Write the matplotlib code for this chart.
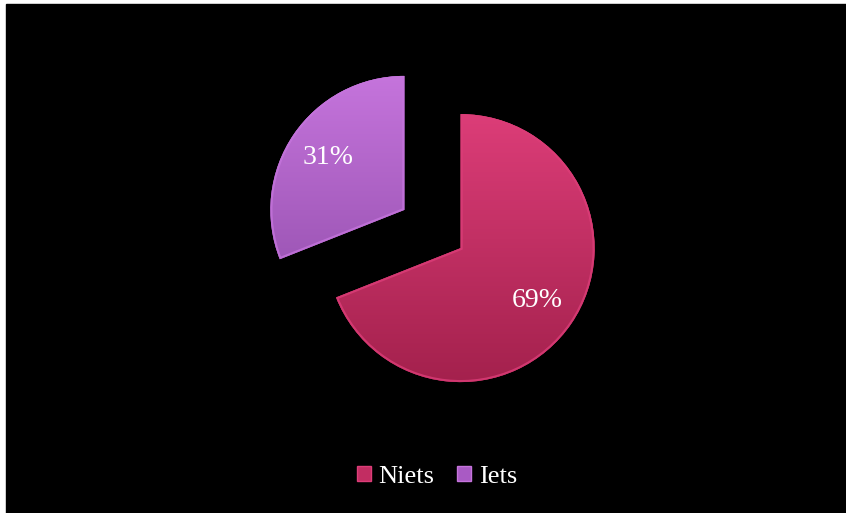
import matplotlib.pyplot as plt
import numpy as np
from matplotlib.colors import LinearSegmentedColormap
from matplotlib.patches import Patch, Wedge, Rectangle

labels = ["Niets", "Iets"]
shares = [69, 31]
top_colors = ["#dc3d78", "#c574dc"]
bottom_colors = ["#a4214d", "#8d4aa6"]
mid_colors = ["#c22d62", "#a95ac4"]

W, H = 846, 513
fig = plt.figure(figsize=(W / 100, H / 100), dpi=100, facecolor="white")
# black chart area, leaving a thin white strip on the left and top
fig.patches.append(Rectangle((6 / W, 0), (W - 6) / W, (H - 4) / H,
                             transform=fig.transFigure, color="black", zorder=-1))
ax = fig.add_axes([6 / W, 0, (W - 6) / W, (H - 4) / H])

radius = 134
center = (432.5, H - 229)
gap = 34  # explode distance, in data units (= pixels here)
wedges, texts, autotexts = ax.pie(
    shares, radius=radius, center=center, startangle=90, counterclock=False,
    explode=[gap, gap], colors=mid_colors, autopct="%1.0f%%",
    pctdistance=0.69, frame=True,
    wedgeprops=dict(linewidth=0),
    textprops=dict(color="white", fontsize=20, family="Liberation Serif"),
)
ax.set_xlim(6, W)
ax.set_ylim(0, H - 4)
ax.set_aspect("equal")
ax.axis("off")

# vertical shading inside each slice
for w, c_top, c_bot in zip(wedges, top_colors, bottom_colors):
    cmap = LinearSegmentedColormap.from_list("shade", [c_bot, c_top])
    x0, y0 = w.center
    grad = np.linspace(0, 1, 256).reshape(-1, 1)
    im = ax.imshow(grad, cmap=cmap, origin="lower", aspect="auto",
                   extent=[x0 - radius, x0 + radius, y0 - radius, y0 + radius],
                   zorder=1.5)
    im.set_clip_path(w)
    # lighter bevel rim
    rim = Wedge(w.center, w.r, w.theta1, w.theta2, fill=False,
                edgecolor=c_top, linewidth=3, alpha=0.8, zorder=1.6)
    ax.add_patch(rim)
    rim.set_clip_path(w)

ax.set_xlim(6, W)
ax.set_ylim(0, H - 4)

for t in autotexts:
    t.set_zorder(3)
for t in texts:
    t.set_visible(False)

handles = [Patch(facecolor=c, edgecolor=t, linewidth=1) for c, t in zip(mid_colors, top_colors)]
leg = ax.legend(handles, labels, loc="center", bbox_to_anchor=(437 / W, 1 - 477 / H),
                bbox_transform=fig.transFigure, ncol=2, frameon=False,
                handlelength=0.53, handleheight=0.53, handletextpad=0.3, columnspacing=0.85,
                prop=dict(family="Liberation Serif", size=19))
for t in leg.get_texts():
    t.set_color("white")

fig.savefig("out.png", dpi=100, facecolor="white")
